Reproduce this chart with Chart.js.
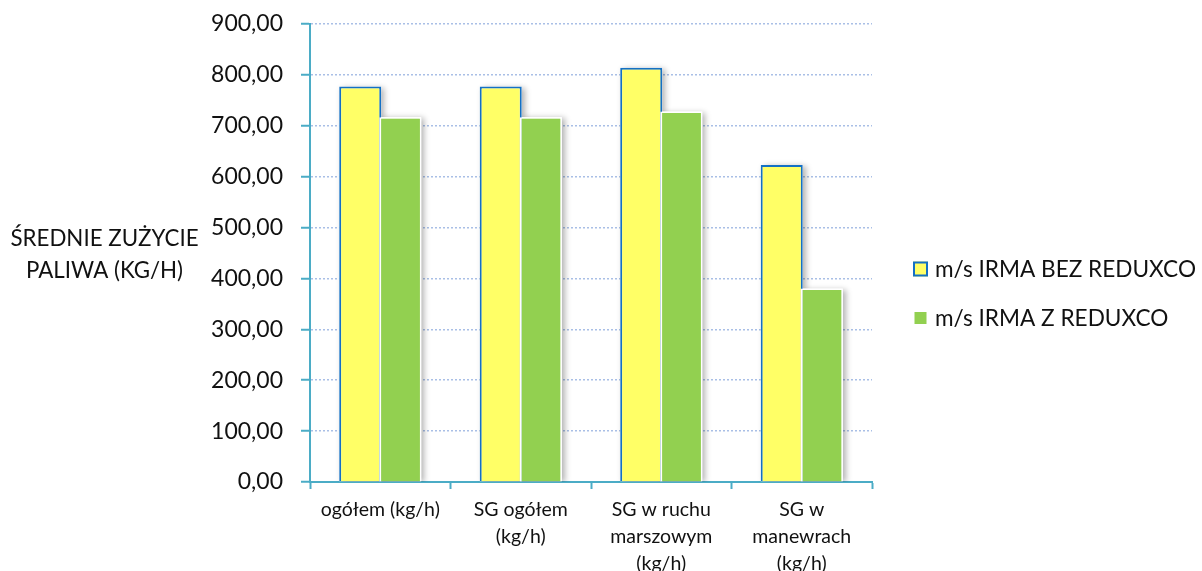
<!DOCTYPE html>
<html lang="pl">
<head>
<meta charset="utf-8">
<title>Średnie zużycie paliwa</title>
<script src="https://cdn.jsdelivr.net/npm/chart.js@4.4.1/dist/chart.umd.min.js"></script>
<style>
  html, body { margin: 0; padding: 0; background: #ffffff; }
  #wrap { position: relative; width: 1202px; height: 571px; }
</style>
</head>
<body>
<div id="wrap"><canvas id="chart" width="1202" height="571"></canvas></div>
<script>
// Categories (multi-line labels under the x axis)
const categories = [
  ['ogółem (kg/h)'],
  ['SG ogółem', '(kg/h)'],
  ['SG w ruchu', 'marszowym', '(kg/h)'],
  ['SG w', 'manewrach', '(kg/h)']
];

// Series values (kg/h)
const seriesNames = ['m/s IRMA BEZ REDUXCO', 'm/s IRMA Z REDUXCO'];
const bezReduxco = [777, 777, 814, 623];
const zReduxco = [717, 717, 728, 380];

// Y axis tick labels (0 .. 900, step 100)
const yTickLabels = ['0,00', '100,00', '200,00', '300,00', '400,00', '500,00', '600,00', '700,00', '800,00', '900,00'];

// Axis title (drawn horizontally, left of the tick labels)
const yTitleLines = ['ŚREDNIE ZUŻYCIE', 'PALIWA (KG/H)'];

const FONT = 'Lato, "Open Sans", "DejaVu Sans", sans-serif';
const TEAL = '#4BACC6';
const BLUE = '#1470C4';
const YELLOW = '#FFFF66';
const GREEN = '#92D050';
const TEXT = '#111111';

// Soft shadow on the right side of every bar
const barShadow = {
  id: 'barShadow',
  beforeDatasetsDraw(chart) {
    const ctx = chart.ctx;
    const area = chart.chartArea;
    ctx.save();
    ctx.beginPath();
    ctx.rect(area.left, area.top - 10, area.right - area.left + 20, area.bottom - area.top + 10);
    ctx.clip();
    chart.data.datasets.forEach((ds, di) => {
      const meta = chart.getDatasetMeta(di);
      meta.data.forEach(el => {
        const p = el.getProps(['x', 'y', 'base', 'width'], true);
        ctx.save();
        ctx.shadowColor = 'rgba(0,0,0,0.30)';
        ctx.shadowBlur = 6;
        ctx.shadowOffsetX = 3;
        ctx.shadowOffsetY = 1;
        ctx.fillStyle = '#ffffff';
        ctx.fillRect(p.x - p.width / 2, p.y, p.width, p.base - p.y);
        ctx.restore();
      });
    });
    ctx.restore();
  },
  // the second series sits in front of the first one where they touch
  afterDatasetsDraw(chart) {
    const ctx = chart.ctx;
    const meta = chart.getDatasetMeta(1);
    ctx.save();
    meta.data.forEach(el => el.draw(ctx));
    ctx.restore();
  }
};

// Horizontal axis title and the legend on the right
const sideText = {
  id: 'sideText',
  afterDraw(chart) {
    const ctx = chart.ctx;
    ctx.save();
    ctx.fillStyle = TEXT;
    ctx.textBaseline = 'middle';
    ctx.textAlign = 'center';
    ctx.font = '22.3px ' + FONT;
    ctx.fillText(yTitleLines[0], 104.5, 239);
    ctx.fillText(yTitleLines[1], 104.5, 271);

    // legend
    const boxX = 913, boxS = 15;
    const rows = [269, 318];
    chart.data.datasets.forEach((ds, i) => {
      const cy = rows[i];
      if (i === 0) {
        ctx.fillStyle = ds.backgroundColor;
        ctx.fillRect(boxX, cy - boxS / 2, boxS, boxS);
        ctx.strokeStyle = BLUE;
        ctx.lineWidth = 2;
        ctx.strokeRect(boxX + 1, cy - boxS / 2 + 1, boxS - 2, boxS - 2);
      } else {
        ctx.fillStyle = ds.backgroundColor;
        ctx.fillRect(boxX + 1.5, cy - boxS / 2 + 1.5, boxS - 3, boxS - 3);
      }
      ctx.fillStyle = TEXT;
      ctx.textAlign = 'left';
      ctx.font = '22.6px ' + FONT;
      ctx.fillText(ds.label, 935, cy + 1);
    });
    ctx.restore();
  }
};

new Chart(document.getElementById('chart'), {
  type: 'bar',
  data: {
    labels: categories,
    datasets: [
      {
        label: seriesNames[0],
        data: bezReduxco,
        backgroundColor: YELLOW,
        borderColor: BLUE,
        borderWidth: { top: 2, left: 2, right: 2, bottom: 0 },
        borderSkipped: false,
        categoryPercentage: 0.57,
        barPercentage: 1.05
      },
      {
        label: seriesNames[1],
        data: zReduxco,
        backgroundColor: GREEN,
        borderColor: '#ffffff',
        borderWidth: { top: 1.5, left: 2, right: 1.5, bottom: 0 },
        borderSkipped: false,
        categoryPercentage: 0.57,
        barPercentage: 1.05
      }
    ]
  },
  options: {
    responsive: false,
    animation: false,
    events: [],
    layout: { padding: { left: 0, right: 330, top: 24, bottom: 0 } },
    plugins: {
      legend: { display: false },
      tooltip: { enabled: false },
      title: { display: false }
    },
    scales: {
      x: {
        offset: true,
        grid: {
          offset: true,
          drawOnChartArea: false,
          drawTicks: true,
          tickLength: 7,
          tickColor: TEAL,
          tickWidth: 2
        },
        border: { display: true, color: TEAL, width: 2 },
        ticks: {
          color: TEXT,
          font: { family: FONT, size: 19.5, lineHeight: 1.38 },
          padding: 7,
          maxRotation: 0,
          autoSkip: false
        },
        afterFit(scale) { scale.height = 89; }
      },
      y: {
        min: 0,
        max: 900,
        grid: {
          color: '#A9BFE6',
          lineWidth: 1.5,
          drawTicks: true,
          tickLength: 9,
          tickColor: TEAL,
          tickWidth: 2
        },
        border: { display: true, color: TEAL, width: 2, dash: [2, 2] },
        ticks: {
          stepSize: 100,
          color: TEXT,
          font: { family: FONT, size: 23 },
          padding: 18,
          callback: (v, i) => yTickLabels[i]
        },
        afterFit(scale) {
          scale.width = 310;
          scale.paddingTop = 12;
          scale.paddingBottom = 12;
        }
      }
    }
  },
  plugins: [barShadow, sideText]
});
</script>
</body>
</html>
